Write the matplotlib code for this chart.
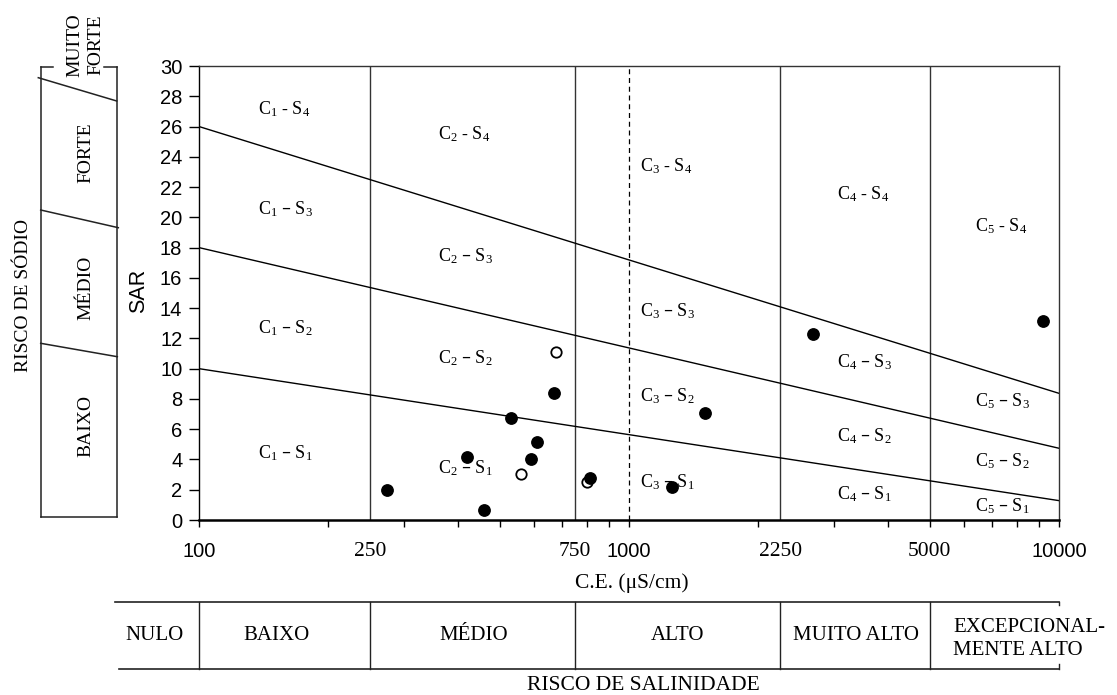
import numpy as np
import matplotlib
matplotlib.use("Agg")
import matplotlib.pyplot as plt
from matplotlib.ticker import FixedLocator, NullFormatter
from matplotlib.transforms import blended_transform_factory
from matplotlib.lines import Line2D

plt.rcParams['mathtext.default'] = 'regular'
SERIF = ['Liberation Serif', 'DejaVu Serif']
SANS = ['Liberation Sans', 'DejaVu Sans']

# samples (C.E. in uS/cm, SAR)
filled_ce = [273, 421, 460, 532, 593, 611, 669, 812, 1259, 1500, 2683, 9193]
filled_sar = [1.98, 4.18, 0.64, 6.76, 4.01, 5.17, 8.41, 2.78, 2.16, 7.05, 12.27, 13.15]
open_ce = [560, 675, 799]
open_sar = [3.02, 11.08, 2.51]

# sodium class boundaries: SAR at C.E.=100 and C.E.=10000
sar_left = [10, 18, 26]
sar_right = [1.28, 4.74, 8.37]

# salinity class limits
ce_bounds = [100, 250, 750, 2250, 5000, 10000]
salinity_classes = ['NULO', 'BAIXO', 'MÉDIO', 'ALTO', 'MUITO ALTO', 'EXCEPCIONAL-\nMENTE ALTO']
sodium_classes = ['BAIXO', 'MÉDIO', 'FORTE', 'MUITO\nFORTE']

x_ticks = [100, 250, 750, 1000, 2250, 5000, 10000]
y_ticks = list(range(0, 31, 2))

W, H = 1117, 695
def fx(px): return px / W
def fy(py): return 1 - py / H

fig = plt.figure(figsize=(W / 100, H / 100), dpi=100)
ax = fig.add_axes([fx(199), fy(520), 860 / W, 454 / H])
ax.set_xscale('log')
ax.set_xlim(100, 10000)
ax.set_ylim(0, 30)

# class lines
for v in [250, 750, 2250, 5000]:
    ax.axvline(v, color='#333333', lw=1.0, zorder=1)
ax.axvline(1000, color='black', lw=0.9, ls=(0, (4, 3)), zorder=1)
for a, b in zip(sar_left, sar_right):
    ax.plot([100, 10000], [a, b], color='black', lw=1.0, zorder=1)

ax.plot(open_ce, open_sar, 'o', ms=7.5, mfc='white', mec='black', mew=1.3, zorder=3)
ax.plot(filled_ce, filled_sar, 'o', ms=8.2, color='black', zorder=4)

# region labels: left x (C.E.) per column, SAR per row (S1..S4)
label_x = [137, 359, 1061, 3041, 6378]
label_y = [[4.49, 12.75, 20.6, 27.2],
           [3.5, 10.77, 17.5, 25.57],
           [2.53, 8.26, 13.88, 23.46],
           [1.76, 5.62, 10.46, 21.6],
           [0.99, 3.96, 7.93, 19.49]]
for c in range(5):
    for s in range(4):
        dash = '-' if s == 3 else '–'
        ax.text(label_x[c], label_y[c][s] - 0.4, f'$C_{c + 1}$ {dash} $S_{s + 1}$',
                family=SERIF, fontsize=13, ha='left', va='baseline', zorder=2)

# axes styling
for side in ['left', 'right', 'top']:
    ax.spines[side].set_linewidth(1.0)
ax.spines['top'].set_color('#333333')
ax.spines['right'].set_color('#333333')
ax.spines['bottom'].set_linewidth(1.8)

ax.xaxis.remove_overlapping_locs = False
ax.xaxis.set_major_locator(FixedLocator(x_ticks))
ax.set_xticklabels([str(v) for v in x_ticks])
minor = [m * 10 ** e for e in (2, 3) for m in range(1, 10)] + [10000]
ax.xaxis.set_minor_locator(FixedLocator(minor))
ax.xaxis.set_minor_formatter(NullFormatter())
ax.tick_params(axis='x', which='major', length=0, pad=16)
ax.tick_params(axis='x', which='minor', length=5, width=1, direction='out')
for lab, v in zip(ax.get_xticklabels(), x_ticks):
    if v in (100, 1000, 10000):
        lab.set_fontfamily(SANS)
        lab.set_fontsize(14.5)
    else:
        lab.set_fontfamily(SERIF)
        lab.set_fontsize(15.5)

ax.set_yticks(y_ticks)
ax.tick_params(axis='y', length=7.5, width=1, pad=4.5, labelsize=14.5)
for lab in ax.get_yticklabels():
    lab.set_fontfamily(SANS)

fig.text(fx(139), fy(291), 'SAR', rotation=90, family=SANS, fontsize=15.5,
         ha='center', va='center')
fig.text(fx(632), fy(583), 'C.E. (μS/cm)', family=SERIF, fontsize=15.5,
         ha='center', va='center')

# salinity risk box below the axis
tr = blended_transform_factory(ax.transData, fig.transFigure)
lk = dict(color='#222222', lw=1.2, transform=tr, clip_on=False)
x_left_top = 10 ** (2 + (115 - 199) / 430)
x_left_bot = 10 ** (2 + (119 - 199) / 430)
fig.add_artist(Line2D([x_left_top, 10000], [fy(601.7), fy(601.7)], **lk))
fig.add_artist(Line2D([x_left_bot, 10000], [fy(669), fy(669)], **lk))
for v in ce_bounds[:-1]:
    fig.add_artist(Line2D([v, v], [fy(601.7), fy(669)], **dict(lk, lw=1.0)))
fig.add_artist(Line2D([10000, 10000], [fy(601.7), fy(605)], **dict(lk, lw=1.0)))
fig.add_artist(Line2D([10000, 10000], [fy(664), fy(669)], **dict(lk, lw=1.0)))

sal_pos = [155, 276, 474, 678, 856]
for name, px in zip(salinity_classes[:-1], sal_pos):
    fig.text(fx(px), fy(636), name, family=SERIF, fontsize=15, ha='center', va='center')
fig.text(fx(953), fy(639), salinity_classes[-1], family=SERIF, fontsize=15,
         ha='left', va='center', linespacing=1.35)
fig.text(fx(643), fy(685), 'RISCO DE SALINIDADE', family=SERIF, fontsize=15.5,
         ha='center', va='center')

# sodium risk box on the left
bk = dict(color='#222222', lw=1.1, transform=fig.transFigure)
segs = [((40.7, 66.7), (40.7, 516.5)), ((117.3, 66.7), (117.3, 516.5)),
        ((40.7, 516.5), (117.3, 516.5)), ((40.7, 66.7), (53.3, 66.7)),
        ((104, 66.7), (117.3, 66.7)), ((38.3, 77.7), (116.7, 101)),
        ((40.7, 210), (118.3, 227.7)), ((40.7, 343.3), (117.3, 356.7))]
for (x0, y0), (x1, y1) in segs:
    fig.add_artist(Line2D([fx(x0), fx(x1)], [fy(y0), fy(y1)], **bk))

sod_pos = [(86, 426), (86, 288), (86, 153), (85, 45)]
for name, (px, py) in zip(sodium_classes, sod_pos):
    fig.text(fx(px), fy(py), name, rotation=90, family=SERIF, fontsize=14,
             ha='center', va='center', linespacing=1.3)
fig.text(fx(23.3), fy(295), 'RISCO DE SÓDIO', rotation=90, family=SERIF,
         fontsize=14, ha='center', va='center')

fig.savefig('out.png', dpi=100)
